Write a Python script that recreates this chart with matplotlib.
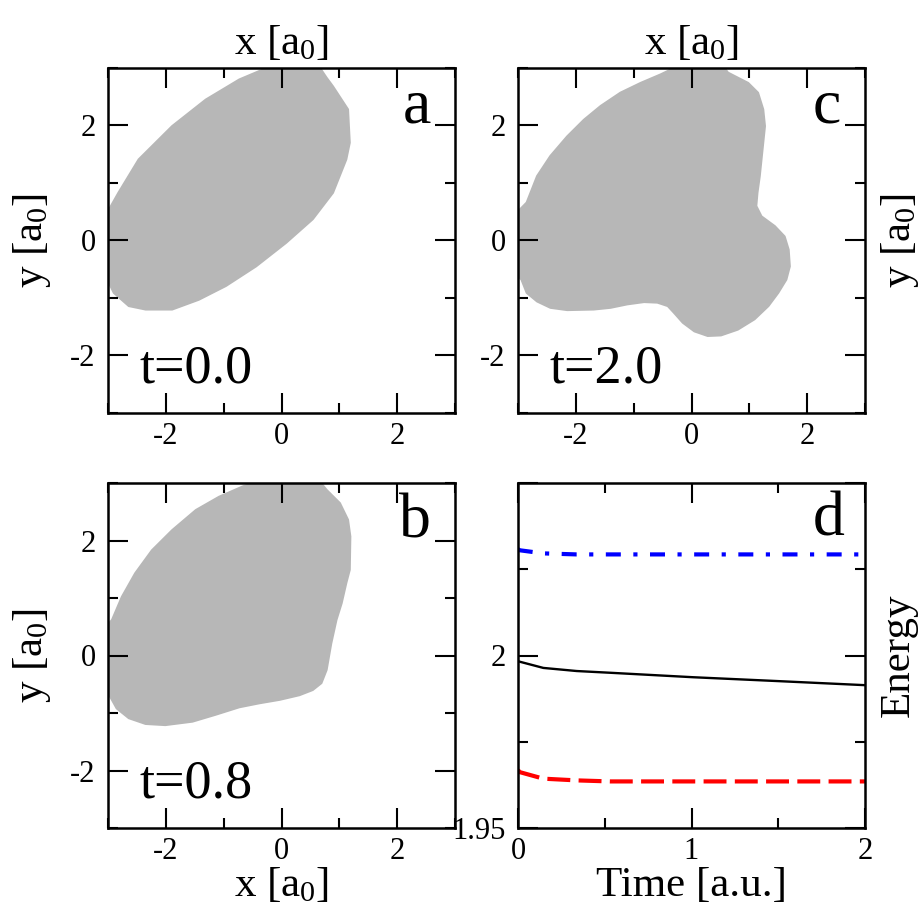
import matplotlib
matplotlib.use('Agg')
import matplotlib.pyplot as plt
from matplotlib.ticker import MultipleLocator, FixedLocator, FixedFormatter

plt.rcParams['font.family'] = ['Liberation Serif', 'DejaVu Serif']
plt.rcParams['mathtext.fontset'] = 'custom'
plt.rcParams['mathtext.rm'] = 'Liberation Serif'

# 密度等值区域的边界 (x, y) —— 从图上读出
shape_a_x = [0.6, 0.78, 0.89, 1.15, 1.18, 1.12, 0.89, 0.54, 0.08, -0.44, -0.96, -1.43, -1.89,
             -2.35, -2.64, -2.90, -3.04, -3.2, -3.2, -3.05, -2.82, -2.47, -1.89, -1.31,
             -0.73, -0.33, -0.2]
shape_a_y = [3.1, 2.83, 2.68, 2.28, 1.70, 1.41, 0.83, 0.37, -0.04, -0.45, -0.79, -1.03, -1.20,
             -1.20, -1.14, -0.91, -0.62, -0.3, 0.2, 0.42, 0.83, 1.41, 1.99, 2.45,
             2.80, 2.97, 3.1]

shape_b_x = [0.6, 0.78, 1.01, 1.15, 1.19, 1.18, 1.12, 1.04, 0.95, 0.86, 0.78, 0.69, 0.54,
             0.31, -0.03, -0.38, -0.73, -1.14, -1.54, -2.01, -2.35, -2.64, -2.85, -2.96,
             -3.2, -3.2, -2.93, -2.76, -2.53, -2.24, -1.89, -1.48, -1.08, -0.67, -0.2]
shape_b_y = [3.1, 2.88, 2.65, 2.36, 2.07, 1.49, 1.26, 0.91, 0.62, 0.21, -0.25, -0.48, -0.60,
             -0.69, -0.77, -0.83, -0.90, -1.03, -1.15, -1.21, -1.19, -1.09, -0.92, -0.72,
             -0.5, 0.3, 0.62, 1.02, 1.43, 1.83, 2.18, 2.53, 2.76, 2.94, 3.1]

shape_c_x = [0.5, 0.63, 0.98, 1.15, 1.24, 1.27, 1.24, 1.21, 1.18, 1.14, 1.12, 1.21, 1.44,
             1.61, 1.68, 1.70, 1.64, 1.50, 1.33, 1.09, 0.80, 0.51, 0.28, 0.05, -0.15,
             -0.30, -0.41, -0.59, -0.82, -1.11, -1.40, -1.69, -2.15, -2.44, -2.67, -2.85,
             -2.94, -3.2, -3.2, -2.85, -2.67, -2.44, -2.15, -1.86, -1.57, -1.23, -0.88,
             -0.53, -0.1]
shape_c_y = [3.1, 2.92, 2.74, 2.57, 2.28, 1.99, 1.70, 1.41, 1.12, 0.83, 0.60, 0.42, 0.25,
             0.07, -0.16, -0.45, -0.68, -0.91, -1.14, -1.37, -1.55, -1.65, -1.66, -1.58,
             -1.43, -1.26, -1.14, -1.08, -1.07, -1.11, -1.17, -1.20, -1.21, -1.17, -1.06,
             -0.91, -0.68, -0.4, 0.3, 0.66, 1.12, 1.47, 1.81, 2.10, 2.34, 2.57, 2.74,
             2.89, 3.1]

# 能量随时间变化
time = [0.0, 0.01, 0.146, 0.338, 0.53, 1.01, 1.49, 2.0]
energy_total = [1.9984, 1.9982, 1.9964, 1.9955, 1.9950, 1.9937, 1.9926, 1.9914]
energy_low = [1.9668, 1.9662, 1.9643, 1.9638, 1.9635, 1.9635, 1.9635, 1.9635]
energy_high = [2.0308, 2.0305, 2.0296, 2.0293, 2.0293, 2.0293, 2.0293, 2.0293]

panels = [
    ('a', 't=0.0', shape_a_x, shape_a_y),
    ('b', 't=0.8', shape_b_x, shape_b_y),
    ('c', 't=2.0', shape_c_x, shape_c_y),
]

W = 923.0
fig = plt.figure(figsize=(9.23, 9.23), dpi=100)
ax_a = fig.add_axes([108 / W, 1 - 413 / W, 347 / W, 345 / W])
ax_b = fig.add_axes([108 / W, 1 - 828 / W, 347 / W, 345 / W])
ax_c = fig.add_axes([518 / W, 1 - 413 / W, 347 / W, 345 / W])
ax_d = fig.add_axes([518 / W, 1 - 828 / W, 347 / W, 345 / W])

xlab = r'x [a$\mathregular{_0}$]'
ylab = r'y [a$\mathregular{_0}$]'


def style_axes(ax):
    for sp in ax.spines.values():
        sp.set_linewidth(1.8)
    ax.tick_params(which='both', direction='in', top=True, right=True, width=1.5, labelsize=22)
    ax.tick_params(which='major', length=14.5)
    ax.tick_params(which='minor', length=7.2)
    ax.tick_params(axis='x', pad=6.5)
    ax.tick_params(axis='y', pad=9)


# 三个等值区域面板
for ax, (letter, tlabel, sx, sy) in zip([ax_a, ax_b, ax_c], panels):
    ax.fill(sx, sy, facecolor='#b7b7b7', edgecolor='#b7b7b7', lw=1.5, joinstyle='round')
    ax.set_xlim(-3, 3)
    ax.set_ylim(-3, 3)
    ax.xaxis.set_minor_locator(MultipleLocator(1))
    ax.yaxis.set_minor_locator(MultipleLocator(1))
    ax.set_xticks([-2, 0, 2], ['-2', '0', '2'])
    ax.set_yticks([-2, 0, 2], ['-2', '0', '2'])
    style_axes(ax)
    ax.text(0.93, 0.843, letter, transform=ax.transAxes, ha='right', va='baseline', fontsize=46)
    ax.text(0.092, 0.087, tlabel, transform=ax.transAxes, ha='left', va='baseline', fontsize=39)

ax_a.xaxis.set_label_position('top')
ax_a.set_xlabel(xlab, fontsize=31, labelpad=10)
ax_a.set_ylabel(ylab, fontsize=31, labelpad=12)

ax_c.xaxis.set_label_position('top')
ax_c.set_xlabel(xlab, fontsize=31, labelpad=10)
ax_c.yaxis.set_label_position('right')
ax_c.set_ylabel(ylab, fontsize=31, labelpad=10, rotation=90)

ax_b.set_xlabel(xlab, fontsize=31, labelpad=0)
ax_b.set_ylabel(ylab, fontsize=31, labelpad=12)

# 能量曲线
ax_d.plot(time, energy_total, color='black', lw=1.7)
ax_d.plot(time, energy_low, color='red', lw=3, dashes=(5.5, 2))
ax_d.plot(time, energy_high, color='blue', lw=3, dashes=(3.6, 3, 1, 3))
ax_d.set_xlim(0, 2)
ax_d.set_ylim(1.95, 2.05)
ax_d.xaxis.set_minor_locator(MultipleLocator(0.5))
ax_d.yaxis.set_major_locator(FixedLocator([1.95, 2.0, 2.05]))
ax_d.yaxis.set_major_formatter(FixedFormatter(['1.95', '2', '']))
ax_d.yaxis.set_minor_locator(FixedLocator([1.975, 2.025]))
ax_d.set_xticks([0, 1, 2], ['0', '1', '2'])
style_axes(ax_d)
ax_d.text(0.94, 0.849, 'd', transform=ax_d.transAxes, ha='right', va='baseline', fontsize=46)
ax_d.set_xlabel('Time [a.u.]', fontsize=31, labelpad=0)
ax_d.yaxis.set_label_position('right')
ax_d.set_ylabel('Energy', fontsize=31, labelpad=10, rotation=90)

fig.savefig('out.png', dpi=100)
